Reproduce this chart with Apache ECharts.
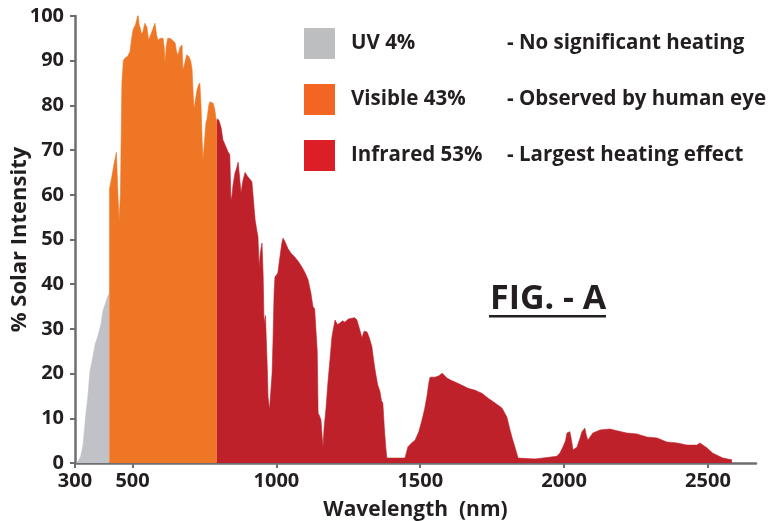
<!DOCTYPE html>
<html>
<head>
<meta charset="utf-8">
<script src="https://cdn.jsdelivr.net/npm/echarts@6/dist/echarts.min.js"></script>
<style>
html,body{margin:0;padding:0;background:#fff;}
#chart{width:768px;height:521px;}
</style>
</head>
<body>
<div id="chart"></div>
<script>
// ---- data (wavelength in nm, % solar intensity) ----
const xTickValues = [300, 500, 1000, 1500, 2000, 2500];
const yTickStep = 10;

const uvWavelength = [305, 312, 320, 328, 338, 345, 352, 360, 370, 380, 390, 397, 405, 412, 419];
const uvIntensity  = [0, 0.5, 1.5, 4, 11, 15, 20.5, 23, 26.5, 28.5, 31, 34, 35.5, 37, 38];

const visWavelength = [419, 428, 436, 444, 448, 453, 458, 463, 468, 474, 483, 491, 497, 502, 510, 516, 519, 523, 526, 531, 536, 543, 550, 556, 561, 570, 578, 583, 588, 597, 606, 610, 613, 617, 622, 630, 640, 648, 653, 658, 665, 672, 675, 680, 688, 695, 702, 707, 711, 714, 718, 724, 729, 734, 738, 742, 745, 750, 755, 759, 765, 769, 775, 780, 786, 790, 793];
const visIntensity  = [61, 64, 67, 69.5, 62, 54, 60, 85, 90, 90.6, 91, 92, 95, 97, 98, 99.5, 100.7, 98, 97.5, 96, 96.5, 98.4, 97.5, 94.6, 94.6, 97, 98.4, 96, 94.6, 95, 95, 93, 89.5, 93, 95, 95, 94.5, 94, 92, 91.3, 93, 93.5, 88, 89, 91.3, 91, 90, 88, 82, 79, 81, 83.4, 84.5, 85, 80, 72, 67.8, 72, 76, 77, 80, 80.8, 81, 80.5, 79, 77, 76];

const irWavelength = [793, 800, 808, 814, 823, 832, 838, 842, 846, 849, 856, 862, 867, 872, 877, 883, 891, 901, 908, 915, 920, 926, 932, 936, 940, 944, 950, 954, 957, 962, 967, 969, 971, 976, 981, 985, 988, 992, 995, 1005, 1012, 1019, 1023, 1030, 1040, 1050, 1065, 1077, 1089, 1100, 1110, 1120, 1127, 1133, 1138, 1142, 1145, 1150, 1155, 1159, 1162, 1166, 1172, 1179, 1186, 1193, 1198, 1204, 1212, 1221, 1230, 1238, 1250, 1263, 1272, 1280, 1289, 1297, 1305, 1315, 1323, 1332, 1338, 1343, 1352, 1360, 1365, 1370, 1375, 1380, 1384, 1447, 1457, 1470, 1482, 1495, 1506, 1515, 1523, 1530, 1534, 1551, 1565, 1576, 1585, 1593, 1607, 1621, 1645, 1666, 1690, 1714, 1736, 1760, 1784, 1801, 1812, 1820, 1829, 1840, 1899, 1975, 1985, 1996, 2005, 2010, 2020, 2026, 2031, 2045, 2055, 2062, 2072, 2078, 2083, 2090, 2100, 2125, 2159, 2184, 2218, 2253, 2288, 2323, 2357, 2392, 2427, 2462, 2472, 2496, 2517, 2552, 2583];
const irIntensity  = [77, 76.7, 75, 72.3, 71, 69.6, 69, 58.8, 60, 62, 64.9, 66, 67.3, 64, 60.4, 63, 65, 64, 63.5, 62.9, 59, 54.4, 52, 50.6, 43.8, 47, 49.2, 42, 31.3, 33, 32.7, 20, 14.8, 11.9, 11.9, 20, 26.8, 38, 41.6, 42.5, 46, 49.2, 50.3, 49.5, 48, 47, 46, 45, 43.8, 42.5, 41, 38, 35, 34.5, 34.2, 25, 11.2, 10.5, 9.6, 6, 3.6, 8, 11.9, 17.9, 23, 28.2, 30, 32, 31, 31.3, 31.8, 31.5, 32.2, 32.4, 32.5, 32, 30, 28, 29.5, 29.3, 28, 26, 23, 20.8, 17.5, 16, 14, 13.4, 8, 3.6, 1.1, 1.1, 3.6, 4.5, 5.1, 7, 9.6, 12, 14.8, 18, 19.2, 19.2, 19.5, 20.1, 19.5, 19, 18.5, 18.1, 17.4, 16.7, 16.3, 15.6, 14.5, 13.4, 12.3, 10.3, 7.4, 5.5, 3.6, 1.1, 0.9, 1.5, 2.2, 3.6, 5, 6.7, 7, 5, 2.9, 3.6, 5.5, 7, 7.8, 6, 5.1, 5.8, 6.7, 7.4, 7.6, 7.2, 6.7, 6.5, 5.8, 5.6, 4.7, 4.5, 4, 4, 4.5, 3.4, 2.2, 1.1, 0.7];

const bandNames = ['UV 4%', 'Visible 43%', 'Infrared 53%'];
const bandNotes = ['- No significant heating', '- Observed by human eye', '- Largest heating effect'];
const figLabel = 'FIG. - A';

// ---- chart ----
const FONT = '"Open Sans", "Noto Sans", sans-serif';
const INK = '#231f20';
const zip = (xs, ys) => xs.map((x, i) => [x, ys[i]]);

const legendColors = ['#bcbec0', '#f26522', '#dc1f26'];
const areaColors = ['#c0c2c7', '#ee7624', '#be2129'];
const bandData = [zip(uvWavelength, uvIntensity), zip(visWavelength, visIntensity), zip(irWavelength, irIntensity)];

const chart = echarts.init(document.getElementById('chart'), null, {renderer: 'canvas'});
chart.setOption({
  animation: false,
  backgroundColor: '#ffffff',
  grid: {left: 75, right: 12, top: 16, bottom: 58, containLabel: false, outerBoundsMode: 'none'},
  legend: {
    left: 304, top: 28, orient: 'vertical', padding: 0,
    icon: 'rect', itemWidth: 31, itemHeight: 31, itemGap: 25,
    selectedMode: false,
    itemStyle: {borderWidth: 0},
    data: bandNames.map((n, i) => ({name: n, itemStyle: {color: legendColors[i]}})),
    formatter: (name) => {
      const i = bandNames.indexOf(name);
      return '{g|}{a|' + name + '}{b|' + bandNotes[i] + '}';
    },
    textStyle: {
      color: INK, fontFamily: FONT, fontWeight: 'bold', fontSize: 20.5,
      rich: {
        g: {width: 11},
        a: {width: 156, color: INK, fontFamily: FONT, fontWeight: 'bold', fontSize: 20.5},
        b: {color: INK, fontFamily: FONT, fontWeight: 'bold', fontSize: 20.5}
      }
    }
  },
  xAxis: {
    type: 'value', min: 300, max: 2667,
    name: 'Wavelength  (nm)', nameLocation: 'middle', nameGap: 37,
    nameTextStyle: {color: INK, fontFamily: FONT, fontWeight: 'bold', fontSize: 21},
    splitLine: {show: false},
    axisLine: {show: true, lineStyle: {color: '#6d6e71', width: 2.5}},
    axisTick: {show: true, length: 5, lineStyle: {color: '#6d6e71', width: 2}, customValues: xTickValues},
    axisLabel: {color: INK, fontFamily: FONT, fontWeight: 'bold', fontSize: 20, margin: 8,
      customValues: xTickValues, formatter: (v) => String(v)}
  },
  yAxis: {
    type: 'value', min: 0, max: 100, interval: yTickStep,
    name: '% Solar Intensity', nameLocation: 'middle', nameGap: 44, nameMoveOverlap: false,
    nameTextStyle: {color: INK, fontFamily: FONT, fontWeight: 'bold', fontSize: 22},
    splitLine: {show: false},
    axisLine: {show: true, lineStyle: {color: '#6d6e71', width: 2.5}},
    axisTick: {show: true, length: 5, lineStyle: {color: '#6d6e71', width: 2}},
    axisLabel: {color: INK, fontFamily: FONT, fontWeight: 'bold', fontSize: 20, margin: 11,
      formatter: (v) => String(v)}
  },
  series: bandNames.map((n, i) => ({
    name: n, type: 'line', data: bandData[i],
    showSymbol: false, symbol: 'none', smooth: false, sampling: 'none',
    itemStyle: {color: legendColors[i]},
    lineStyle: {width: 0.6, color: areaColors[i]},
    areaStyle: {color: areaColors[i], opacity: 1},
    silent: true, z: 2
  })),
  graphic: [
    {type: 'text', left: 490, top: 282, style: {text: figLabel, fill: INK, font: 'bold 34px ' + FONT}},
    {type: 'rect', left: 489, top: 315, shape: {width: 117, height: 2.5}, style: {fill: INK}}
  ]
});
</script>
</body>
</html>
